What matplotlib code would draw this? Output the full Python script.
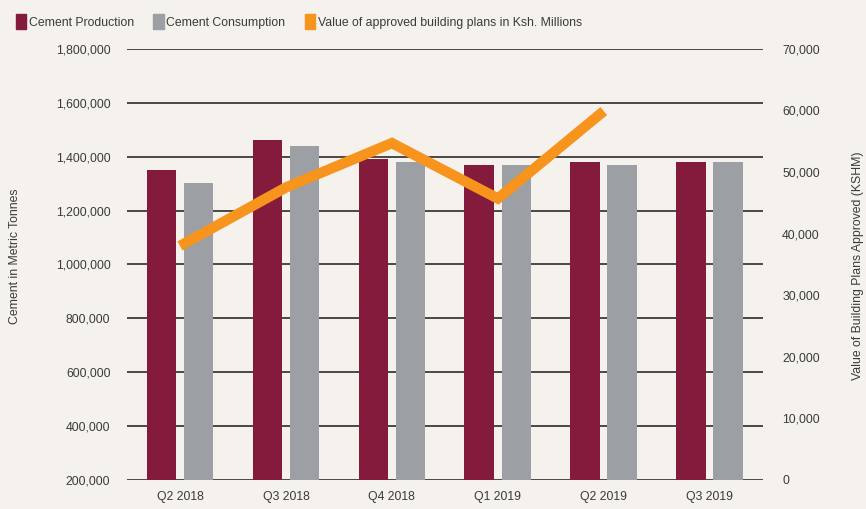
import matplotlib.pyplot as plt
from matplotlib.patches import Patch
from matplotlib.ticker import FuncFormatter
import numpy as np

plt.rcParams['font.family'] = ['Liberation Sans', 'DejaVu Sans']

quarters = ["Q2 2018", "Q3 2018", "Q4 2018", "Q1 2019", "Q2 2019", "Q3 2019"]
production = [1350000, 1462000, 1392000, 1370000, 1380000, 1380000]
consumption = [1302000, 1440000, 1380000, 1370000, 1370000, 1380000]
# building plans, Ksh millions (no value for Q3 2019)
plans = [38000, 47500, 54700, 45700, 59900]

bg = "#f5f2ed"
maroon = "#841a3c"
grey = "#9c9fa3"
orange = "#f7941d"
txt = "#3a3a3a"
fs = 8.8

fig = plt.figure(figsize=(8.66, 5.09), dpi=100, facecolor=bg)
ax = fig.add_axes([0.1467, 0.057, 0.734, 0.847])
ax.set_facecolor(bg)

x = np.arange(len(quarters))
w = 0.28
ax.bar(x - 0.175, production, w, color=maroon, zorder=2)
ax.bar(x + 0.175, consumption, w, color=grey, zorder=2)

ax.set_ylim(200000, 1800000)
ax.set_xlim(-0.5, len(quarters) - 0.5)
ax.set_yticks(np.arange(200000, 1800001, 200000))
ax.yaxis.set_major_formatter(FuncFormatter(lambda v, p: f"{int(v):,}"))
ax.grid(axis="y", color="#1a1a1a", linewidth=1.1, zorder=0)
ax.set_axisbelow(True)
ax.set_xticks(x)
ax.set_xticklabels(quarters)
ax.tick_params(axis="both", length=0, labelsize=fs, colors=txt)
ax.tick_params(axis="y", pad=12)
ax.tick_params(axis="x", pad=8)
for s in ax.spines.values():
    s.set_visible(False)

ax2 = ax.twinx()
ax2.set_ylim(0, 70000)
ax2.set_yticks(np.arange(0, 70001, 10000))
ax2.yaxis.set_major_formatter(FuncFormatter(lambda v, p: f"{int(v):,}"))
ax2.tick_params(axis="y", length=0, labelsize=fs, colors=txt, pad=14)
for s in ax2.spines.values():
    s.set_visible(False)
ax2.plot(x[:len(plans)], plans, color=orange, linewidth=7.5,
         solid_joinstyle="miter", solid_capstyle="butt", zorder=3)

fig.text(0.017, 0.497, "Cement in Metric Tonnes", rotation=90,
         ha="center", va="center", fontsize=fs, color=txt)
fig.text(0.991, 0.478, "Value of Building Plans Approved (KSHM)", rotation=90,
         ha="center", va="center", fontsize=fs, color=txt)

handles = [Patch(color=maroon, label="Cement Production"),
           Patch(color=grey, label="Cement Consumption"),
           Patch(color=orange, label="Value of approved building plans in Ksh. Millions")]
fig.legend(handles=handles, loc="center", bbox_to_anchor=(0.345, 1 - 21.5 / 509),
           ncol=3, frameon=False, fontsize=fs, labelcolor=txt,
           handlelength=0.85, handleheight=1.45, handletextpad=0.2,
           columnspacing=1.6, borderpad=0)

fig.savefig("out.png", dpi=100, facecolor=bg)
